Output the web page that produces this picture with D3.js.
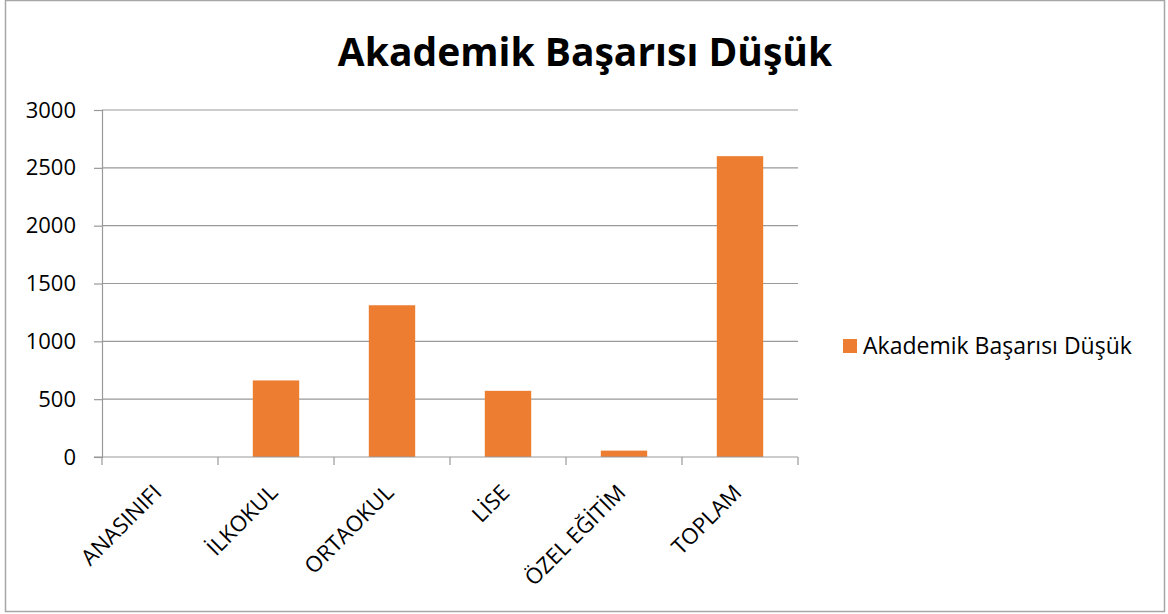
<!DOCTYPE html>
<html lang="tr">
<head>
<meta charset="UTF-8">
<script src="https://cdn.jsdelivr.net/npm/d3@7"></script>
<style>
  body { margin: 0; background: #fff; }
  text { font-family: 'Open Sans', 'Noto Sans', sans-serif; fill: #000; }
</style>
</head>
<body>
<div id="chart"></div>
<script>
// chart data
var categories = ["ANASINIFI", "İLKOKUL", "ORTAOKUL", "LİSE", "ÖZEL EĞİTİM", "TOPLAM"];
var values = [0, 662, 1312, 572, 55, 2601];
var yTicks = [0, 500, 1000, 1500, 2000, 2500, 3000];
var seriesName = "Akademik Başarısı Düşük";

var W = 1168, H = 614;
var plotLeft = 102, plotRight = 798, plotTop = 110, plotBottom = 457;

var svg = d3.select("#chart").append("svg")
  .attr("width", W)
  .attr("height", H);

// frame
svg.append("rect")
  .attr("x", 5.5).attr("y", 0.5)
  .attr("width", 1159).attr("height", 611)
  .attr("fill", "#fff")
  .attr("stroke", "#a6a6a6")
  .attr("stroke-width", 1.5);

svg.append("text")
  .attr("x", 585).attr("y", 66)
  .attr("text-anchor", "middle")
  .attr("font-weight", "bold")
  .attr("font-size", "39px")
  .text("Akademik Başarısı Düşük");

var x = d3.scaleBand().domain(categories).range([plotLeft, plotRight]).paddingInner(0.6).paddingOuter(0.3);
var xTicks = d3.scaleBand().domain(categories).range([plotLeft, plotRight]);
var y = d3.scaleLinear().domain([0, 3000]).range([plotBottom, plotTop]);

// gridlines
svg.append("g")
  .selectAll("line")
  .data(yTicks.slice(1))
  .enter().append("line")
  .attr("x1", plotLeft).attr("x2", plotRight)
  .attr("y1", function(d) { return y(d); })
  .attr("y2", function(d) { return y(d); })
  .attr("stroke", "#999")
  .attr("stroke-width", 1.2);

// y axis
var yAxis = svg.append("g")
  .attr("transform", "translate(" + plotLeft + ",0)")
  .call(d3.axisLeft(y).tickValues(yTicks).tickFormat(d3.format("d")).tickSize(8).tickPadding(18));
yAxis.select(".domain").attr("stroke", "#999").attr("stroke-width", 1.2);
yAxis.selectAll(".tick line").attr("stroke", "#999").attr("stroke-width", 1.2);
yAxis.selectAll(".tick text").attr("font-size", "22px").attr("fill", "#000").style("font-family", "'Open Sans', sans-serif");

// bars
svg.selectAll(".bar")
  .data(values)
  .enter().append("rect")
  .attr("class", "bar")
  .attr("x", function(d, i) { return x(categories[i]); })
  .attr("y", function(d) { return y(d); })
  .attr("width", x.bandwidth())
  .attr("height", function(d) { return plotBottom - y(d); })
  .attr("fill", "#ed7d31");

// x axis
var xAxisG = svg.append("g").attr("transform", "translate(0," + plotBottom + ")");
xAxisG.append("line")
  .attr("x1", plotLeft - 8).attr("x2", plotRight)
  .attr("stroke", "#999").attr("stroke-width", 1.2);
xAxisG.selectAll(".tk")
  .data(categories.concat(["end"]))
  .enter().append("line")
  .attr("x1", function(d, i) { return plotLeft + i * xTicks.bandwidth(); })
  .attr("x2", function(d, i) { return plotLeft + i * xTicks.bandwidth(); })
  .attr("y1", 0).attr("y2", 8)
  .attr("stroke", "#999").attr("stroke-width", 1.2);
xAxisG.selectAll(".lbl")
  .data(categories)
  .enter().append("text")
  .attr("transform", function(d) {
    return "translate(" + (xTicks(d) + xTicks.bandwidth() / 2 + 3) + ",37) rotate(-45)";
  })
  .attr("text-anchor", "end")
  .attr("font-size", "22px")
  .text(function(d) { return d; });

// legend
svg.append("rect")
  .attr("x", 843).attr("y", 339)
  .attr("width", 14).attr("height", 14)
  .attr("fill", "#ed7d31");
svg.append("text")
  .attr("x", 863).attr("y", 354)
  .attr("font-size", "23px")
  .text(seriesName);
</script>
</body>
</html>
